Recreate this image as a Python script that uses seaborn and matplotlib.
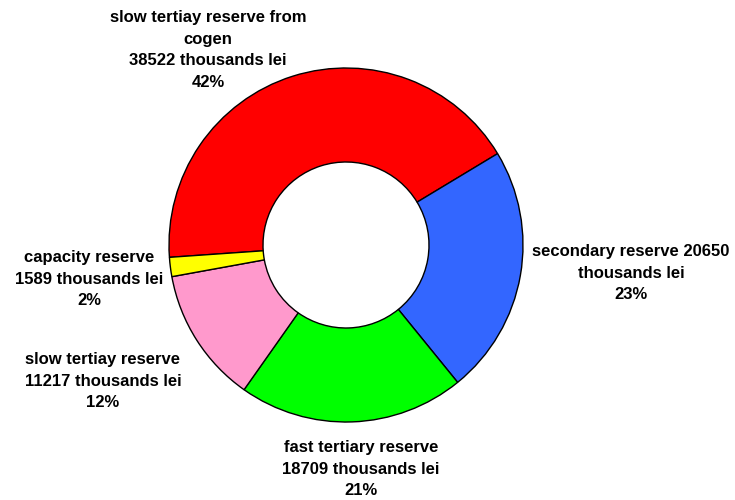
import matplotlib
matplotlib.use("Agg")
import matplotlib.pyplot as plt
import seaborn as sns

sns.set_theme(style="white")
plt.rcParams["font.family"] = ["Liberation Sans", "DejaVu Sans"]

# Reserve costs, thousands lei
categories = [
    "slow tertiay reserve from\ncogen",
    "secondary reserve 20650",
    "fast tertiary reserve",
    "slow tertiay reserve",
    "capacity reserve",
]
values = [38522, 20650, 18709, 11217, 1589]
percent_labels = ["42%", "23%", "21%", "12%", "2%"]
colors = ["#FF0000", "#3366FF", "#00FF00", "#FF99CC", "#FFFF00"]

label_texts = [
    f"{categories[0]}\n{values[0]} thousands lei\n{percent_labels[0]}",
    f"secondary reserve {values[1]}\nthousands lei\n{percent_labels[1]}",
    f"{categories[2]}\n{values[2]} thousands lei\n{percent_labels[2]}",
    f"{categories[3]}\n{values[3]} thousands lei\n{percent_labels[3]}",
    f"{categories[4]}\n{values[4]} thousands lei\n{percent_labels[4]}",
]
label_pos = [(208, 450), (631, 227), (361, 31), (103, 119), (89, 221)]

fig = plt.figure(figsize=(7.35, 5.0), dpi=100)
ax = fig.add_axes([0, 0, 1, 1])

ax.pie(
    values,
    colors=colors,
    startangle=184,
    counterclock=False,
    center=(346, 255),
    radius=177,
    wedgeprops=dict(width=94, edgecolor="black", linewidth=1.0),
    frame=True,
)
ax.set_xlim(0, 735)
ax.set_ylim(0, 500)
ax.set_aspect("equal")
ax.axis("off")

for txt, (x, y) in zip(label_texts, label_pos):
    ax.text(x, y, txt, ha="center", va="center", multialignment="center",
            fontsize=12, fontweight="bold", color="black", linespacing=1.55)

fig.savefig("out.png", dpi=100, facecolor="white")
